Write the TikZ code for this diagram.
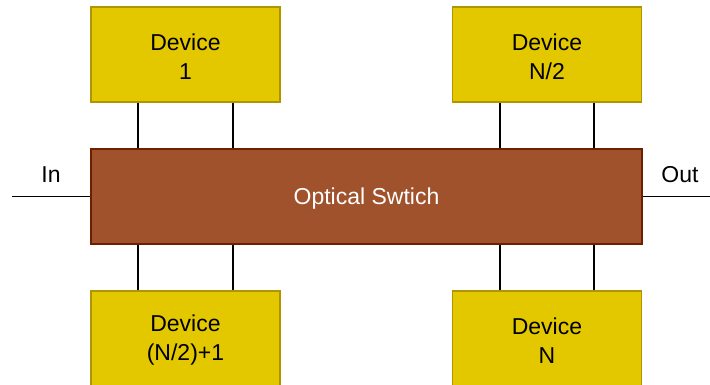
\documentclass[tikz,border=0pt]{standalone}
\usepackage{fontspec}
\setmainfont{Liberation Sans}
\definecolor{devfill}{HTML}{E3C800}
\definecolor{devline}{HTML}{B09500}
\definecolor{swfill}{HTML}{A0522D}
\definecolor{swline}{HTML}{6D1F00}
\begin{document}
\begin{tikzpicture}[x=1pt,y=-1pt,
  device/.style={draw=devline,fill=devfill,line width=1.2pt,minimum width=189pt,minimum height=95pt,inner sep=0pt},
  switchbox/.style={draw=swline,fill=swfill,line width=1.2pt,minimum width=551pt,minimum height=95pt,inner sep=0pt},
  intext/.style={align=center,inner sep=0pt,yshift=-2pt,font=\fontsize{23}{29}\selectfont},
  wire/.style={draw=black,line width=1.3pt},
  lbl/.style={font=\fontsize{23}{28}\selectfont,inner sep=0pt}]
\useasboundingbox (0,0) rectangle (710,385);
\node[switchbox,label={[intext,text=white,yshift=-0.5pt]center:Optical Swtich}] (sw) at (366.5,196.5) {};
\node[device,label={[intext]center:Device\\1}] (d1) at (185.5,54.5) {};
\node[device,label={[intext]center:Device\\N/2}] (d2) at (547,54.5) {};
\node[device,label={[intext]center:Device\\(N/2)+1}] (d3) at (185.5,338.5) {};
\node[device,label={[intext]center:Device\\N}] (d4) at (547,338.5) {};
\coordinate (inend) at (12,196.5);
\coordinate (outend) at (710,196.5);
\node[lbl] (inl) at (51,175) {In};
\node[lbl] (outl) at (680,175) {Out};
\draw[wire] (inend) -- (sw.west);
\draw[wire] (sw.east) -- (outend);
\foreach \d/\s in {d1/-47.5,d2/-47}{
  \draw[wire] ([xshift=\s pt]\d.south) -- ([xshift=\s pt]\d.south |- sw.north);
  \draw[wire] ([xshift=-\s pt]\d.south) -- ([xshift=-\s pt]\d.south |- sw.north);
}
\foreach \d/\s in {d3/-47.5,d4/-47}{
  \draw[wire] ([xshift=\s pt]\d.north) -- ([xshift=\s pt]\d.north |- sw.south);
  \draw[wire] ([xshift=-\s pt]\d.north) -- ([xshift=-\s pt]\d.north |- sw.south);
}
\end{tikzpicture}
\end{document}
